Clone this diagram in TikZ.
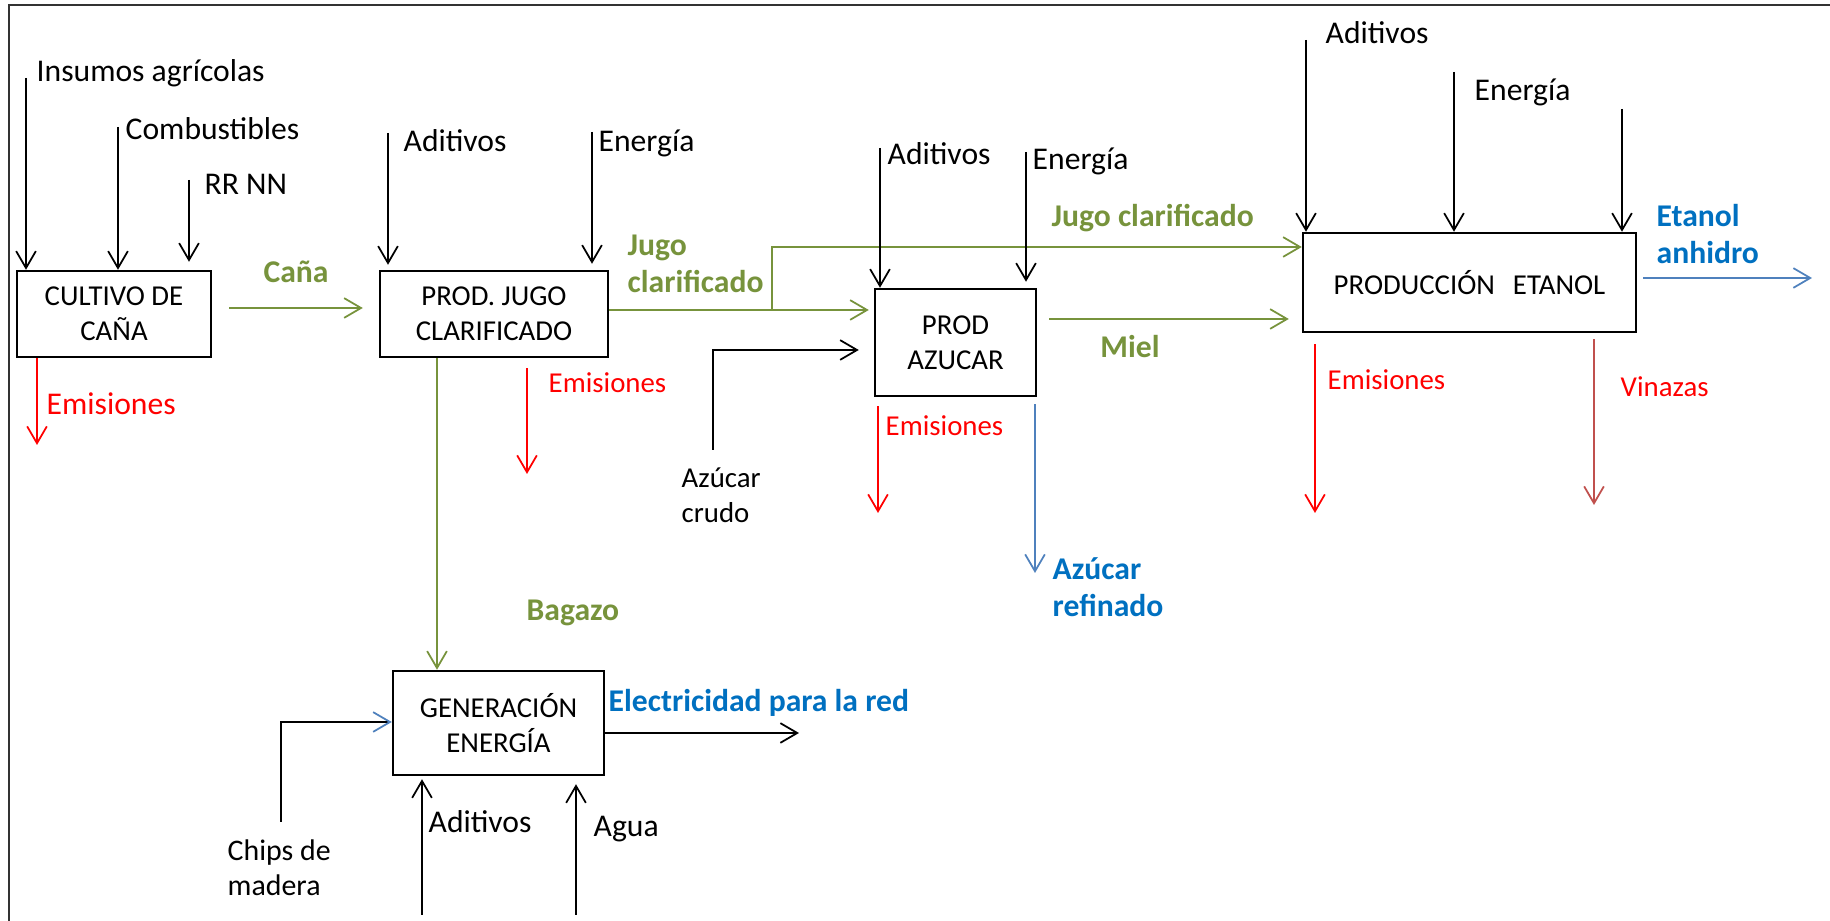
\documentclass[tikz,border=0pt]{standalone}
\usepackage{fontspec}
\setmainfont{Carlito}
\usetikzlibrary{arrows.meta}
\definecolor{flowgreen}{RGB}{119,147,60}
\definecolor{lossred}{RGB}{255,0,0}
\definecolor{prodblue}{RGB}{0,112,192}
\definecolor{lineblue}{RGB}{79,129,189}
\definecolor{vinazared}{RGB}{192,80,77}
\begin{document}
\begin{tikzpicture}[x=0.1mm,y=-0.1mm,
  >={Straight Barb[length=4.8pt,width=5.6pt]},
  proc/.style={draw,line width=0.7pt,inner sep=0pt,align=center,
    font=\fontsize{8.2}{10}\selectfont},
  flow/.style={line width=0.5pt,->},
  lbl/.style={inner sep=0pt,anchor=base west,align=left,
    font=\fontsize{9}{10.8}\selectfont},
  slbl/.style={inner sep=0pt,anchor=base west,align=left,
    font=\fontsize{8.2}{10}\selectfont},
  blbl/.style={inner sep=0pt,anchor=base west,align=left,
    font=\fontsize{9}{10.6}\selectfont\bfseries},
]
\useasboundingbox (0,0) rectangle (1830,921);
\draw[black!80,line width=0.5pt] (9,921) -- (9,5) -- (1830,5);

% process boxes
\node[proc,minimum width=19.4mm,minimum height=8.6mm] (cultivo) at (114,314) {CULTIVO DE\\CAÑA};
\node[proc,minimum width=22.8mm,minimum height=8.6mm] (jugo) at (494,314) {PROD. JUGO\\CLARIFICADO};
\node[proc,minimum width=16.1mm,minimum height=10.7mm] (azucar) at (955.5,342.5) {PROD\\AZUCAR};
\node[proc,minimum width=33.3mm,minimum height=9.9mm] (etanol) at (1469.5,282.5) {PRODUCCIÓN\hspace{1.8mm}ETANOL};
\node[proc,minimum width=21.1mm,minimum height=10.4mm] (gen) at (498.5,723) {GENERACIÓN\\ENERGÍA};

% cultivation inputs and outputs
\coordinate (insumos) at (26,78);
\coordinate (combust) at (118,127);
\coordinate (rrnn) at (189,180);
\draw[flow] (insumos) -- (insumos |- cultivo.north);
\draw[flow] (combust) -- (combust |- cultivo.north);
\draw[flow,shorten >=0.8mm] (rrnn) -- (rrnn |- cultivo.north);
\node[lbl] (tInsumos) at (36,82) {Insumos agrícolas};
\node[lbl] (tCombust) at (125,140) {Combustibles};
\node[lbl] (tRrnn) at (204,195) {RR NN};
\coordinate (emCultivo) at (37,445);
\draw[flow,lossred] (emCultivo |- cultivo.south) -- (emCultivo);
\node[lbl,lossred] (tEmCultivo) at (46,415) {Emisiones};
\coordinate (canaStart) at (229,308);
\draw[flow,flowgreen,shorten >=1.6mm] (canaStart) -- (canaStart -| jugo.west);
\node[blbl,flowgreen,anchor=base] (tCana) at (296,283) {Caña};

% clarified juice stage
\coordinate (jAdit) at (388,133);
\coordinate (jEner) at (592,132);
\draw[flow,shorten >=0.5mm] (jAdit) -- (jAdit |- jugo.north);
\draw[flow,shorten >=0.6mm] (jEner) -- (jEner |- jugo.north);
\node[lbl] (tJAdit) at (403,152) {Aditivos};
\node[lbl] (tJEner) at (598,152) {Energía};
\coordinate (split) at (772,310);
\coordinate (splitTop) at (772,247);
\draw[flow,flowgreen,shorten >=0.5mm] (split -| jugo.east) -- (split -| azucar.west);
\draw[flow,flowgreen] (split) -- (splitTop) -- (splitTop -| etanol.west);
\node[blbl,flowgreen] (tJugo) at (627,293) {Jugo\\clarificado};
\coordinate (emJugo) at (527,474);
\draw[flow,lossred,shorten <=1mm] (emJugo |- jugo.south) -- (emJugo);
\node[slbl,lossred] (tEmJugo) at (548,393) {Emisiones};
\coordinate (bagazo) at (437,500);
\draw[flow,flowgreen] (bagazo |- jugo.south) -- (bagazo |- gen.north);
\node[blbl,flowgreen] (tBagazo) at (526,621) {Bagazo};

% sugar stage
\coordinate (aAdit) at (880,148);
\coordinate (aEner) at (1026,152);
\draw[flow] (aAdit) -- (aAdit |- azucar.north);
\draw[flow,shorten >=0.6mm] (aEner) -- (aEner |- azucar.north);
\node[lbl] (tAAdit) at (887,165) {Aditivos};
\node[lbl] (tAEner) at (1032,170) {Energía};
\node[blbl,flowgreen] (tJugoTop) at (1051,227) {Jugo clarificado};
\coordinate (crudoStart) at (713,450);
\coordinate (crudoBend) at (713,350);
\draw[flow,shorten >=1.5mm] (crudoStart) -- (crudoBend) -- (crudoBend -| azucar.west);
\node[slbl] (tCrudo) at (681,523) {Azúcar\\crudo};
\coordinate (mielStart) at (1049,319);
\draw[flow,flowgreen,shorten >=1.3mm] (mielStart) -- (mielStart -| etanol.west);
\node[blbl,flowgreen,anchor=base] (tMiel) at (1130,358) {Miel};
\coordinate (emAzucar) at (878,513);
\draw[flow,lossred,shorten <=0.9mm] (emAzucar |- azucar.south) -- (emAzucar);
\node[slbl,lossred] (tEmAzucar) at (885,436) {Emisiones};
\coordinate (refinado) at (1035,573);
\draw[flow,lineblue,shorten <=0.7mm] (refinado |- azucar.south) -- (refinado);
\node[blbl,prodblue] (tRefinado) at (1052,617) {Azúcar\\refinado};

% ethanol stage
\coordinate (eAdit) at (1306,40);
\coordinate (eEner) at (1454,72);
\coordinate (eThird) at (1622,109);
\draw[flow] (eAdit) -- (eAdit |- etanol.north);
\draw[flow] (eEner) -- (eEner |- etanol.north);
\draw[flow] (eThird) -- (eThird |- etanol.north);
\node[lbl] (tEAdit) at (1325,44) {Aditivos};
\node[lbl] (tEEner) at (1474,101) {Energía};
\coordinate (anhidro) at (1812,278);
\draw[flow,lineblue,shorten <=0.6mm] (anhidro -| etanol.east) -- (anhidro);
\node[blbl,prodblue] (tAnhidro) at (1656,264) {Etanol\\anhidro};
\coordinate (emEtanol) at (1315,513);
\draw[flow,lossred,shorten <=1.1mm] (emEtanol |- etanol.south) -- (emEtanol);
\node[slbl,lossred] (tEmEtanol) at (1327,390) {Emisiones};
\coordinate (vinazas) at (1594,505);
\draw[flow,vinazared,shorten <=0.6mm] (vinazas |- etanol.south) -- (vinazas);
\node[slbl,lossred] (tVinazas) at (1620,397) {Vinazas};

% power generation
\coordinate (chipsStart) at (281,822);
\coordinate (chipsBend) at (281,722);
\draw[line width=0.5pt,-{Straight Barb[length=4.8pt,width=5.6pt,color=lineblue]}]
  (chipsStart) -- (chipsBend) -- (chipsBend -| gen.west);
\node[slbl,font=\fontsize{8.5}{10.2}\selectfont] (tChips) at (227,896) {Chips de\\madera};
\coordinate (elec) at (799,733);
\draw[flow] (elec -| gen.east) -- (elec);
\node[blbl,prodblue] (tElec) at (608,712) {Electricidad para la red};
\coordinate (gAdit) at (422,915);
\coordinate (gAgua) at (576,915);
\draw[flow,shorten >=0.3mm] (gAdit) -- (gAdit |- gen.south);
\draw[flow,shorten >=0.8mm] (gAgua) -- (gAgua |- gen.south);
\node[lbl] (tGAdit) at (428,833) {Aditivos};
\node[lbl] (tGAgua) at (593,837) {Agua};
\end{tikzpicture}
\end{document}
